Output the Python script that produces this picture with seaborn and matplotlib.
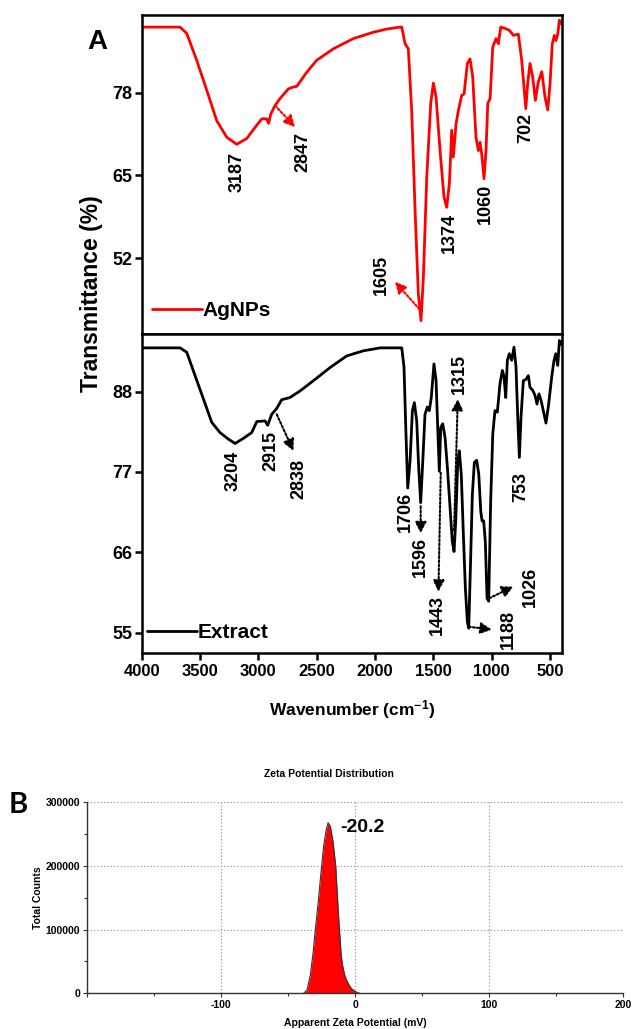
"""FTIR spectra (AgNPs vs extract) and zeta potential distribution"""

import matplotlib
matplotlib.use('Agg')
import matplotlib.pyplot as plt
import pandas as pd
import seaborn as sns
from matplotlib.ticker import MultipleLocator

sns.set_theme(style='white')
plt.rcParams['font.family'] = ['Liberation Sans', 'DejaVu Sans']
plt.rcParams['font.weight'] = 'bold'
plt.rcParams['text.color'] = 'black'
plt.rcParams['axes.labelcolor'] = 'black'
plt.rcParams['xtick.color'] = 'black'
plt.rcParams['ytick.color'] = 'black'
plt.rcParams['mathtext.fontset'] = 'custom'
plt.rcParams['mathtext.rm'] = 'Liberation Sans:bold'
plt.rcParams['mathtext.bf'] = 'Liberation Sans:bold'
plt.rcParams['mathtext.default'] = 'bf'

# AgNPs spectrum (wavenumber cm-1, transmittance %)
ag_wn = [4000, 3700, 3671, 3614, 3529, 3443, 3357, 3271, 3186, 3100, 3014, 2971, 2929, 2912,
         2895, 2857, 2814, 2743, 2700, 2671, 2586, 2500, 2357, 2186, 2014, 1900, 1786, 1771,
         1743, 1715, 1686, 1657, 1629, 1606, 1586, 1557, 1523, 1500, 1477, 1443, 1409, 1386,
         1363, 1343, 1329, 1306, 1286, 1257, 1237, 1209, 1186, 1163, 1135, 1114, 1100, 1086,
         1066, 1049, 1034, 1014, 991, 963, 943, 923, 886, 849, 814, 772, 743, 708, 692, 672,
         649, 626, 601, 571, 543, 520, 500, 481, 463, 449, 434, 420, 409, 400]
ag_t = [88.3, 88.3, 88.3, 87.3, 83.1, 78.4, 73.6, 71.0, 69.9, 70.8, 72.9, 73.9, 73.9, 73.2,
        74.6, 76.0, 77.1, 78.6, 78.9, 79.0, 81.2, 83.1, 84.9, 86.5, 87.5, 88.0, 88.3, 88.3,
        85.7, 84.9, 75.2, 59.5, 46.4, 42.2, 49.0, 64.7, 76.3, 79.5, 77.3, 68.9, 61.6, 60.0,
        63.7, 72.1, 67.9, 73.1, 75.2, 77.6, 77.8, 82.6, 83.3, 80.5, 71.0, 68.9, 70.2, 68.4,
        64.5, 68.9, 76.3, 77.1, 85.2, 86.5, 85.7, 88.3, 88.1, 87.8, 87.0, 87.2, 83.1, 75.5,
        79.4, 82.6, 80.5, 76.8, 79.7, 81.3, 77.3, 75.3, 79.4, 85.7, 87.0, 86.2, 87.2, 89.4,
        88.8, 89.0]

# Extract spectrum
ex_wn = [4000, 3671, 3614, 3543, 3471, 3400, 3329, 3257, 3200, 3129, 3057, 3014, 2943, 2920,
         2886, 2843, 2800, 2729, 2643, 2529, 2386, 2243, 2100, 1957, 1786, 1771, 1752, 1735,
         1720, 1700, 1680, 1663, 1643, 1626, 1609, 1591, 1572, 1552, 1535, 1518, 1495, 1477,
         1463, 1449, 1437, 1420, 1400, 1380, 1357, 1338, 1323, 1309, 1291, 1278, 1261, 1243,
         1226, 1209, 1197, 1183, 1166, 1149, 1129, 1111, 1094, 1083, 1069, 1055, 1040, 1026,
         1009, 991, 972, 952, 929, 909, 895, 880, 866, 849, 829, 809, 792, 777, 763, 749, 729,
         706, 686, 672, 649, 629, 612, 595, 577, 558, 535, 512, 486, 466, 451, 434, 420, 409, 400]
ex_t = [94.0, 94.0, 93.4, 90.2, 87.0, 83.8, 82.4, 81.5, 80.9, 81.6, 82.4, 83.9, 84.0, 83.4,
        84.9, 85.7, 86.9, 87.2, 88.1, 89.5, 91.3, 92.9, 93.6, 94.0, 94.0, 94.0, 91.4, 82.2,
        74.8, 78.5, 85.4, 86.5, 84.0, 77.6, 72.8, 78.5, 84.9, 85.9, 85.4, 87.2, 91.8, 89.5,
        83.1, 77.1, 83.1, 83.6, 81.7, 77.6, 72.1, 67.5, 66.1, 70.1, 78.5, 79.9, 76.7, 68.4,
        61.1, 56.5, 55.6, 63.8, 73.9, 78.3, 78.6, 76.7, 71.6, 70.3, 70.3, 67.5, 59.7, 59.3,
        73.0, 82.2, 85.4, 85.2, 89.1, 90.9, 90.1, 87.2, 92.3, 93.2, 92.3, 94.1, 91.4, 84.5,
        79.0, 84.5, 89.5, 89.7, 90.2, 88.6, 88.2, 87.5, 86.3, 87.7, 86.8, 85.4, 83.7, 86.3,
        90.0, 92.3, 93.2, 91.6, 95.0, 94.5, 94.8]

# Zeta potential distribution
zeta_mv = [-38.5, -36, -33.5, -31.5, -29.5, -27.5, -25.5, -23.5, -21.5, -20.2, -18.5, -16.5,
           -14.5, -12.5, -10.5, -9.5, -8, -6.5, -4.5, -2.5, 0, 2, 3.5]
zeta_counts = [0, 5000, 28000, 62000, 105000, 145000, 190000, 232000, 258000, 268000, 262000,
               238000, 200000, 125000, 62000, 45000, 30000, 21000, 13000, 7000, 3000, 1000, 0]

# peak labels: (text, wavenumber, transmittance) for text placement
ag_labels = [('3187', 3180, 65.5), ('2847', 2623, 68.7), ('1605', 1943, 49.3),
             ('1374', 1366, 56.0), ('1060', 1051, 60.5), ('702', 709, 72.5)]
ex_labels = [('3204', 3214, 77.1), ('2915', 2894, 79.9), ('2838', 2651, 76.1),
             ('1706', 1737, 71.5), ('1596', 1609, 65.4), ('1443', 1466, 57.4),
             ('1315', 1280, 90.4), ('1188', 858, 55.4), ('1026', 672, 61.3), ('753', 752, 74.9)]
# dotted arrows: (tail, head)
ag_arrows = [((2857, 76.0), (2686, 72.6)), ((1620, 44.0), (1829, 48.3))]
ex_arrows = [((2843, 84.9), (2700, 79.9)), ((1609, 72.3), (1609, 68.6)),
             ((1437, 76.9), (1457, 60.6)), ((1323, 69.0), (1291, 87.0)),
             ((1197, 55.8), (1000, 55.4)), ((1021, 59.7), (815, 61.3))]

fig = plt.figure(figsize=(6.33, 10.29), dpi=100)
ax_ag = fig.add_axes([0.2239, 0.6754, 0.6635, 0.3100])
ax_ex = fig.add_axes([0.2239, 0.3654, 0.6635, 0.3100])
ax_z = fig.add_axes([0.1379, 0.0347, 0.8463, 0.1856])


def draw_spectrum(ax, wn, t, color, name, ylim, yticks, labels, arrows, leg_anchor):
    df = pd.DataFrame({'wn': wn, 't': t})
    sns.lineplot(data=df, x='wn', y='t', color=color, lw=2.0, estimator=None, ax=ax,
                 label=name)
    ax.set_xlim(4000, 400)
    ax.set_ylim(*ylim)
    ax.set_yticks(yticks)
    ax.set_xlabel('')
    ax.set_ylabel('')
    for s in ax.spines.values():
        s.set_visible(True)
        s.set_color('black')
        s.set_linewidth(1.8)
    ax.tick_params(axis='y', left=True, direction='out', length=5, width=1.8,
                   labelsize=13, pad=2, colors='black')
    for text, x, y in labels:
        ax.text(x, y, text, rotation=90, ha='center', va='center', fontsize=13,
                fontweight='bold', color='black')
    for tail, head in arrows:
        ax.annotate('', xy=head, xytext=tail,
                    arrowprops=dict(arrowstyle='-|>,head_length=0.55,head_width=0.28',
                                    color=color, lw=1.5, linestyle=(0, (1, 1)),
                                    shrinkA=0, shrinkB=0))
    leg = ax.legend(loc='center left', bbox_to_anchor=leg_anchor, frameon=False,
                    handlelength=2.4, handletextpad=0.05, borderpad=0, borderaxespad=0,
                    prop={'size': 15, 'weight': 'bold'})
    for line in leg.get_lines():
        line.set_linewidth(2.0)
    for txt in leg.get_texts():
        txt.set_color('black')


draw_spectrum(ax_ag, ag_wn, ag_t, '#ff0000', 'AgNPs', (40.1, 90.2), [52, 65, 78],
              ag_labels, ag_arrows, (0.024, 0.073))
ax_ag.tick_params(axis='x', bottom=False, labelbottom=False)

draw_spectrum(ax_ex, ex_wn, ex_t, 'black', 'Extract', (52.2, 95.9), [55, 66, 77, 88],
              ex_labels, ex_arrows, (0.012, 0.063))
ax_ex.set_xticks([4000, 3500, 3000, 2500, 2000, 1500, 1000, 500])
ax_ex.tick_params(axis='x', bottom=True, direction='out', length=5, width=1.8,
                  labelsize=12, pad=3, colors='black')

fig.text(0.154, 0.959, 'A', fontsize=20, fontweight='bold', ha='center', va='center')
fig.text(0.1449, 0.7143, 'Transmittance (%)', rotation=90, fontsize=16.5, fontweight='bold',
         ha='center', va='center')
fig.text(0.5556, 0.310, 'Wavenumber (cm$^{-1}$)', fontsize=12.5, fontweight='bold',
         ha='center', va='center')

# zeta potential panel
zdf = pd.DataFrame({'mv': zeta_mv, 'counts': zeta_counts})
ax_z.fill_between(zdf['mv'], zdf['counts'], color='#ff0000', lw=0)
sns.lineplot(data=zdf, x='mv', y='counts', color='#333333', lw=0.8, estimator=None, ax=ax_z)
ax_z.set_xlim(-200, 200)
ax_z.set_ylim(0, 300000)
ax_z.set_xticks([-200, -100, 0, 100, 200])
ax_z.set_xticklabels(['', '-100', '0', '100', '200'])
ax_z.set_yticks([0, 100000, 200000, 300000])
ax_z.set_yticklabels(['0', '100000', '200000', '300000'])
ax_z.xaxis.set_minor_locator(MultipleLocator(50))
ax_z.yaxis.set_minor_locator(MultipleLocator(50000))
ax_z.grid(True, which='major', linestyle=(0, (1, 2)), color='#888888', lw=0.8)
ax_z.spines['top'].set_visible(False)
ax_z.spines['right'].set_visible(False)
for side in ['left', 'bottom']:
    ax_z.spines[side].set_color('#333333')
    ax_z.spines[side].set_linewidth(1.0)
ax_z.tick_params(which='both', left=True, bottom=True, direction='out', width=0.8,
                 colors='#333333', labelcolor='black', labelsize=7.5, pad=2)
ax_z.tick_params(which='major', length=3)
ax_z.tick_params(which='minor', length=2)
ax_z.set_xlabel('')
ax_z.set_ylabel('')
ax_z.text(-11.4, 260400, '-20.2', fontsize=14, fontweight='bold', ha='left', va='center')

fig.text(0.0284, 0.2177, 'B', fontsize=21, fontweight='bold', ha='center', va='center',
         family=['Lato', 'DejaVu Sans'])
fig.text(0.52, 0.2478, 'Zeta Potential Distribution', fontsize=7.5, fontweight='bold',
         ha='center', va='center')
fig.text(0.060, 0.1278, 'Total Counts', rotation=90, fontsize=7.5, fontweight='bold',
         ha='center', va='center')
fig.text(0.561, 0.0060, 'Apparent Zeta Potential (mV)', fontsize=7.5, fontweight='bold',
         ha='center', va='center')

fig.savefig('out.png', dpi=100)
